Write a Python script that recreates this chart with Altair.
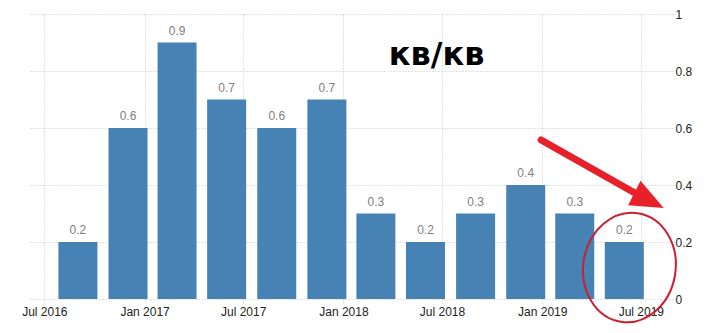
import altair as alt
import pandas as pd

# quarterly observations (quarter end dates) and q/q growth values
quarters = ["2016-09-30", "2016-12-31", "2017-03-31", "2017-06-30",
            "2017-09-30", "2017-12-31", "2018-03-31", "2018-06-30",
            "2018-09-30", "2018-12-31", "2019-03-31", "2019-06-30"]
growth = [0.2, 0.6, 0.9, 0.7, 0.6, 0.7, 0.3, 0.2, 0.3, 0.4, 0.3, 0.2]

y_ticks = [0, 0.2, 0.4, 0.6, 0.8, 1]

# annotation anchors in data space
title_text = ["кв/кв"]
title_date = ["2018-06-21"]
title_value = [0.82]

arrow_start_date = ["2018-12-30"]
arrow_start_value = [0.558]
arrow_end_date = ["2019-06-20"]
arrow_end_value = [0.372]
head_date = ["2019-07-16"]
head_value = [0.3456]

ring_date = ["2019-06-10"]
ring_value = [0.1105]

df = pd.DataFrame({"date": quarters, "value": growth})
df_title = pd.DataFrame({"date": title_date, "value": title_value, "text": title_text})
df_shaft = pd.DataFrame({"sd": arrow_start_date, "sv": arrow_start_value,
                         "ed": arrow_end_date, "ev": arrow_end_value})
df_head = pd.DataFrame({"date": head_date, "value": head_value})
df_ring = pd.DataFrame({"date": ring_date, "value": ring_value})

xscale = alt.Scale(type="utc", padding=0, nice=False, domain=[
    alt.DateTime(year=2016, month=6, date=1, utc=True),
    alt.DateTime(year=2019, month=8, date=29, utc=True)])
yscale = alt.Scale(domain=[0, 1], padding=0, nice=False)

grid_color = "#c4c4c4"
x_axis = alt.Axis(title=None, format="%b %Y", tickCount={"interval": "month", "step": 6},
                  grid=True, gridColor=grid_color, gridDash=[1, 2],
                  ticks=True, tickSize=4, tickColor=grid_color, tickDash=[1, 2],
                  domain=False, labelFont="Liberation Sans", labelFontSize=12,
                  labelColor="#222222", labelPadding=3, labelFlush=False,
                  labelOverlap=False)
y_axis = alt.Axis(title=None, orient="right", values=y_ticks, format="~g",
                  grid=True, gridColor=grid_color, gridDash=[1, 2],
                  ticks=False, domain=False, labelFont="Liberation Sans",
                  labelFontSize=12, labelColor="#222222", labelPadding=2)

X = alt.X("date:T", scale=xscale, axis=x_axis)
Y = alt.Y("value:Q", scale=yscale, axis=y_axis)

bars = alt.Chart(df).mark_bar(width=39, xOffset=-16, color="#4682b4").encode(x=X, y=Y)

labels = alt.Chart(df).mark_text(xOffset=-16, dy=-8, baseline="alphabetic",
                                 font="Liberation Sans", fontSize=12,
                                 color="#808080").encode(
    x=X, y=Y, text=alt.Text("value:Q", format=".1f"))

title = alt.Chart(df_title).mark_text(font="DejaVu Sans", fontWeight="bold",
                                      fontSize=32, baseline="alphabetic",
                                      align="center", color="#000000").encode(
    x=X, y=Y, text="text:N")

shaft = alt.Chart(df_shaft).mark_rule(strokeWidth=7, color="#e8202a",
                                      strokeCap="round").encode(
    x=alt.X("sd:T", scale=xscale, axis=x_axis), x2="ed:T",
    y=alt.Y("sv:Q", scale=yscale, axis=y_axis), y2="ev:Q")

head = alt.Chart(df_head).mark_point(shape="M1,0L-1,-0.83L-1,0.83Z", size=1089,
                                     filled=True, color="#e8202a", opacity=1,
                                     angle=27).encode(x=X, y=Y)

ellipse_path = ("M-0.84,0C-0.84,-0.552,-0.464,-1,0,-1C0.464,-1,0.84,-0.552,0.84,0"
                "C0.84,0.552,0.464,1,0,1C-0.464,1,-0.84,0.552,-0.84,0Z")
ring = alt.Chart(df_ring).mark_point(shape=ellipse_path, size=12100, filled=False,
                                     color="#cc2030", strokeWidth=2, opacity=1,
                                     angle=9).encode(x=X, y=Y)

chart = alt.layer(bars, labels, title, shaft, head, ring).properties(
    width=645, height=285,
    autosize=alt.AutoSizeParams(type="none"),
    padding={"left": 28, "top": 14, "right": 49, "bottom": 34},
    background="white",
).configure_view(stroke=None)

chart.save("out.html", embed_options={"renderer": "svg", "actions": False})
